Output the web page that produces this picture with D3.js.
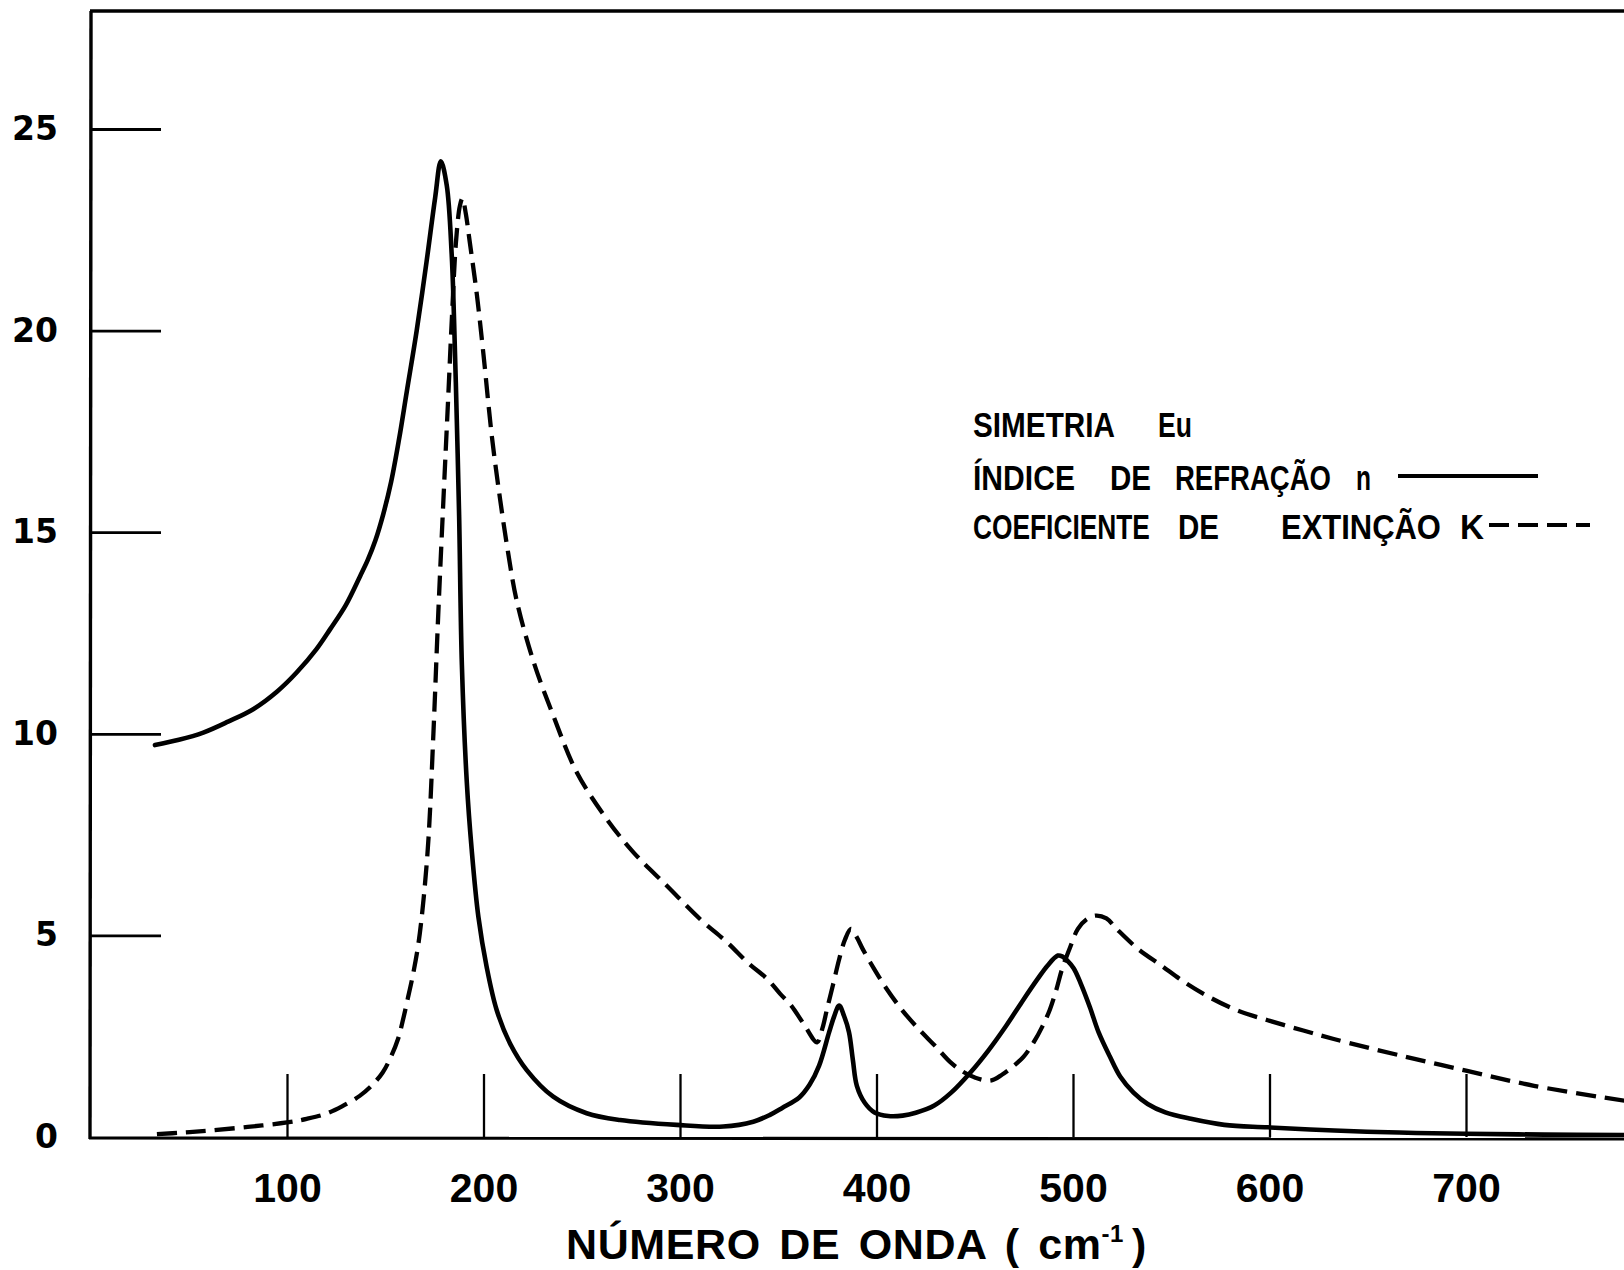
<!DOCTYPE html>
<html><head><meta charset="utf-8">
<script src="https://cdn.jsdelivr.net/npm/d3@7/dist/d3.min.js"></script>
<style>html,body{margin:0;padding:0;background:#fff}</style>
</head><body>
<svg id="chart" width="1624" height="1270" xmlns="http://www.w3.org/2000/svg"></svg>
<script>
// ---------- DATA ----------
// Índice de refração n (solid line)
const waveN = [32.8,45,57.4,70,82.8,95,104.9,115,121.9,130,137.2,141,145,149,153,157,161,166,171,175.4,178.3,181.3,183.8,185,186.4,187.6,189,191.5,194,197.4,201.6,206.7,213.5,222,235.5,252.5,269.5,298.3,322,337.3,345.8,352,360.7,366,370.8,375.9,378.5,381,383.5,386,388,390,394,399,406,413.3,420,429.4,438,447.8,457,466,474,482,487,492.3,494.5,497,500.4,504,508.6,513,518.7,524,530.8,538,547,560,577,599,633,666,700,740,780];
const indexN = [9.72,9.85,10.03,10.3,10.61,11.05,11.52,12.1,12.59,13.2,13.91,14.3,14.8,15.45,16.25,17.3,18.5,20.0,21.7,23.3,24.2,23.6,21.9,20.3,17.8,15.4,11.7,8.8,7.12,5.46,4.22,3.15,2.32,1.66,1.0,0.59,0.42,0.3,0.26,0.38,0.55,0.72,0.98,1.3,1.77,2.6,3.0,3.26,3.0,2.6,1.9,1.27,0.85,0.61,0.52,0.53,0.6,0.78,1.1,1.6,2.15,2.76,3.35,3.92,4.25,4.5,4.48,4.38,4.18,3.8,3.22,2.6,2.0,1.5,1.1,0.82,0.61,0.45,0.3,0.24,0.16,0.11,0.08,0.06,0.05];

// Coeficiente de extinção K (dashed line)
const waveK = [33.8,47,61,80,100,110,119.5,128,137,143,148.7,153,156.5,159,161.4,164,166.9,169.5,172,174.5,177,179.6,182,184,186,188,189.3,191,193,196.6,200,204.2,208.5,212.5,216.9,225.4,235.6,247.5,262.8,276.3,293.3,310.3,323.9,335,344.4,351,356.6,363,369.8,372.5,374.8,378,381,384,387,390,393,399,405.2,413,421.4,430,437.7,444,449.8,458,464,470,475,480,484.5,488.3,491.5,494.4,498.5,502.5,507,511.6,517,522.2,533.2,545,557,569.7,584,600.2,617.2,632.7,666.7,700.6,734.6,780.6];
const extinctionK = [0.07,0.11,0.16,0.25,0.36,0.45,0.57,0.76,1.02,1.27,1.6,2.0,2.43,2.9,3.42,4.0,4.8,5.9,7.4,10.0,13.0,15.8,18.3,20.4,22.2,23.1,23.28,22.9,22.2,20.9,19.4,17.4,15.8,14.5,13.3,11.8,10.44,9.04,7.88,7.06,6.23,5.4,4.83,4.3,3.92,3.55,3.26,2.8,2.35,2.7,3.17,3.8,4.41,4.9,5.16,4.95,4.66,4.15,3.67,3.15,2.68,2.25,1.85,1.62,1.48,1.4,1.55,1.77,2.0,2.35,2.75,3.17,3.65,4.16,4.7,5.16,5.4,5.49,5.42,5.16,4.66,4.25,3.83,3.46,3.13,2.88,2.64,2.43,2.02,1.64,1.27,0.9];

const xTickValues = [100,200,300,400,500,600,700];
const yTickValues = [0,5,10,15,20,25];
const xAxisTitle = "NÚMERO DE ONDA ( cm";
const xAxisTitleSup = "-1";
const xAxisTitleEnd = ")";
const legendRow1 = ["SIMETRIA","Eu"];
const legendRow2 = ["ÍNDICE","DE","REFRAÇÃO","n"];
const legendRow3 = ["COEFICIENTE","DE","EXTINÇÃO","K"];

// ---------- LAYOUT ----------
const W = 1624, H = 1270;
const pL = 91, pR = 1624, pT = 11, pB = 1137;
const svg = d3.select("#chart");
svg.append("rect").attr("width", W).attr("height", H).attr("fill", "#fff");

const x = d3.scaleLinear().domain([0, 780]).range([90.5, 90.5 + 780 * 1.965]);
const y = d3.scaleLinear().domain([0, 25]).range([pB, 129]);

const ink = "#000";

// Y axis (ticks pointing inward)
const yAxis = d3.axisLeft(y).tickValues(yTickValues).tickSizeInner(-70).tickSizeOuter(0).tickPadding(33).tickFormat(d3.format("d"));
const gy = svg.append("g").attr("transform", `translate(${pL},0)`).call(yAxis);
gy.select(".domain").remove();
gy.selectAll(".tick line").attr("stroke", ink).attr("stroke-width", 2.8);
gy.selectAll(".tick").filter(d => d === 0).select("line").remove();
gy.selectAll(".tick text").attr("fill", ink)
  .style("font-family", "'DejaVu Sans', sans-serif").style("font-weight", "bold").style("font-size", "33px");

// X axis (ticks pointing up)
const xAxis = d3.axisBottom(x).tickValues(xTickValues).tickSizeInner(-63).tickSizeOuter(0).tickPadding(36).tickFormat(d3.format("d"));
const gx = svg.append("g").attr("transform", `translate(0,${pB})`).call(xAxis);
gx.select(".domain").remove();
gx.selectAll(".tick line").attr("stroke", ink).attr("stroke-width", 2.3);
gx.selectAll(".tick text").attr("fill", ink)
  .style("font-family", "'Liberation Sans', Arial, sans-serif").style("font-weight", "bold").style("font-size", "41px");

// Frame lines: left, bottom, top
svg.append("line").attr("x1", pL).attr("y1", pT).attr("x2", pL - 1).attr("y2", pB + 2)
  .attr("stroke", ink).attr("stroke-width", 3.4);
svg.append("line").attr("x1", pL - 2).attr("y1", pB + 1).attr("x2", pR).attr("y2", pB + 2)
  .attr("stroke", ink).attr("stroke-width", 3.2);
svg.append("line").attr("x1", pL - 1).attr("y1", pT).attr("x2", pR).attr("y2", pT)
  .attr("stroke", ink).attr("stroke-width", 3.6);

// Curves
svg.append("clipPath").attr("id", "plotclip").append("rect")
  .attr("x", pL).attr("y", pT).attr("width", pR - pL).attr("height", pB - pT);

const line = d3.line().x(d => x(d[0])).y(d => y(d[1])).curve(d3.curveCatmullRom.alpha(0.5));
const nPts = waveN.map((w, i) => [w, indexN[i]]);
const kPts = waveK.map((w, i) => [w, extinctionK[i]]);

svg.append("path").datum(kPts).attr("d", line).attr("clip-path", "url(#plotclip)")
  .attr("fill", "none").attr("stroke", ink).attr("stroke-width", 4.3)
  .attr("stroke-dasharray", "20,9").attr("stroke-linejoin", "round");
svg.append("path").datum(nPts).attr("d", line).attr("clip-path", "url(#plotclip)")
  .attr("fill", "none").attr("stroke", ink).attr("stroke-width", 4.6)
  .attr("stroke-linejoin", "round").attr("stroke-linecap", "round");

// Axis title
const title = svg.append("text").attr("x", 566).attr("y", 1259)
  .attr("fill", ink)
  .style("font-family", "'Liberation Sans', Arial, sans-serif").style("font-weight", "bold").style("font-size", "43px")
  .style("word-spacing", "6px").style("letter-spacing", "0.6px");
title.append("tspan").text(xAxisTitle);
title.append("tspan").attr("dy", -17).style("font-size", "24px").text(xAxisTitleSup);
title.append("tspan").attr("dy", 17).attr("dx", 8).text(xAxisTitleEnd);

// Legend: each word placed and horizontally condensed to the width it has in the original lettering
const legendLayout = [
  {words: legendRow1, y: 437, xs: [973, 1158], ws: [142, 34]},
  {words: legendRow2, y: 490, xs: [973, 1110, 1175, 1356], ws: [102, 41, 156, 15]},
  {words: legendRow3, y: 539, xs: [973, 1178, 1281, 1460], ws: [177, 41, 160, 24]}
];
const lg = svg.append("g");
legendLayout.forEach(row => {
  row.words.forEach((w, i) => {
    const g = lg.append("g");
    const t = g.append("text").attr("x", 0).attr("y", 0).attr("fill", ink)
      .style("font-family", "'Liberation Sans', Arial, sans-serif")
      .style("font-weight", "bold").style("font-size", "35px").text(w);
    const natural = t.node().getComputedTextLength() || row.ws[i];
    const sx = row.ws[i] / natural;
    g.attr("transform", `translate(${row.xs[i]},${row.y}) scale(${sx.toFixed(4)},1)`);
  });
});
lg.append("line").attr("x1", 1398).attr("x2", 1538).attr("y1", 476).attr("y2", 476)
  .attr("stroke", ink).attr("stroke-width", 4.2);
lg.append("line").attr("x1", 1489).attr("x2", 1590).attr("y1", 525).attr("y2", 525)
  .attr("stroke", ink).attr("stroke-width", 4.2).attr("stroke-dasharray", "20,9");
</script>
</body></html>
